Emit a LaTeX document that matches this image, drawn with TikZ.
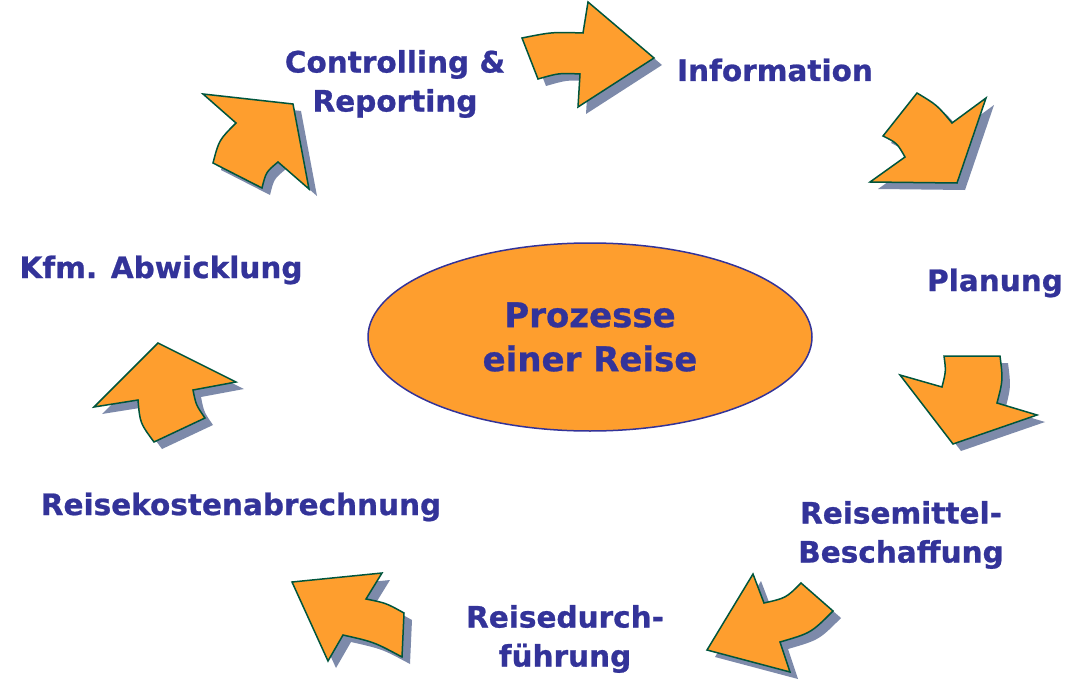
\documentclass[tikz,border=0pt]{standalone}
\usepackage{fontspec}
\setmainfont{DejaVu Sans}[BoldFeatures={FakeBold=0.8}]
\usepackage{tikz}
\usetikzlibrary{shapes.geometric}
\definecolor{procorange}{RGB}{254,158,46}
\definecolor{proctext}{RGB}{51,51,153}
\definecolor{procline}{RGB}{0,85,60}
\definecolor{procshadow}{RGB}{125,138,170}

\tikzset{
  steplabel/.style={text=proctext, font=\bfseries\fontsize{29.5}{39}\selectfont, align=center},
  arrowbody/.style={fill=procorange, draw=procline, line width=1.5pt},
  arrowshadow/.style={fill=procshadow, shift={(8,7)}},
}
\newcommand{\procarrow}[1]{%
  \fill[arrowshadow] #1 -- cycle;
  \filldraw[arrowbody] #1 -- cycle;}

\begin{document}
\begin{tikzpicture}[x=1pt, y=-1pt]
            \useasboundingbox (0,0) rectangle (1084,698);

            % Mitte
            \node[ellipse, fill=procorange, draw=proctext, line width=1.5pt,
                  minimum width=444, minimum height=188, inner sep=0pt,
                  text=proctext, align=center,
                  font=\bfseries\fontsize{34}{44}\selectfont] (reise) at (590,337)
                  {Prozesse\\einer Reise};

            % Schritte
            \node[steplabel] (controlling) at (395,84) {Controlling \&\\Reporting};
            \node[steplabel] (information) at (775,70) {Information};
            \node[steplabel] (planung) at (995,283) {Planung};
            \node[steplabel] (beschaffung) at (901,535) {Reisemittel-\\Beschaffung};
            \node[steplabel] (durchfuehrung) at (565,639) {Reisedurch-\\führung};
            \node[steplabel] (abrechnung) at (241,507) {Reisekostenabrechnung};
            \node[steplabel] (abwicklung) at (161,270) {Kfm. Abwicklung};

            % Pfeile im Uhrzeigersinn
            \procarrow{(522,38) .. controls (552,32) .. (583,33) -- (588,2) -- (654,58)
                       -- (578,107) -- (580,74) .. controls (559,73) .. (538,79)}
            \procarrow{(917,93) .. controls (937,105) .. (952,123) -- (986,98) -- (957,183)
                       -- (870,182) -- (905,157) .. controls (897,143) .. (883,136)}
            \procarrow{(944,356) -- (1000,356) .. controls (1003,380) .. (997,403) -- (1037,415)
                       -- (953,444) -- (900,375) -- (942,387) .. controls (946,371) .. (944,356)}
            \procarrow{(753,574) -- (764,603) .. controls (786,598) .. (801,583) -- (833,611)
                       .. controls (811,633) .. (780,642) -- (790,672) -- (707,650)}
            \procarrow{(292,582) -- (382,573) -- (366,599) .. controls (386,603) .. (404,613)
                       -- (402,657) .. controls (374,642) .. (343,635) -- (328,661)}
            \procarrow{(158,343) -- (236,382) -- (193,390) .. controls (196,405) .. (205,418)
                       -- (154,442) .. controls (140,423) .. (138,400) -- (94,407)}
            \procarrow{(203,94) -- (293,104) -- (309,189) -- (278,162) .. controls (266,172) .. (262,188)
                       -- (213,163) .. controls (219,140) .. (236,123)}
        \end{tikzpicture}
\end{document}
